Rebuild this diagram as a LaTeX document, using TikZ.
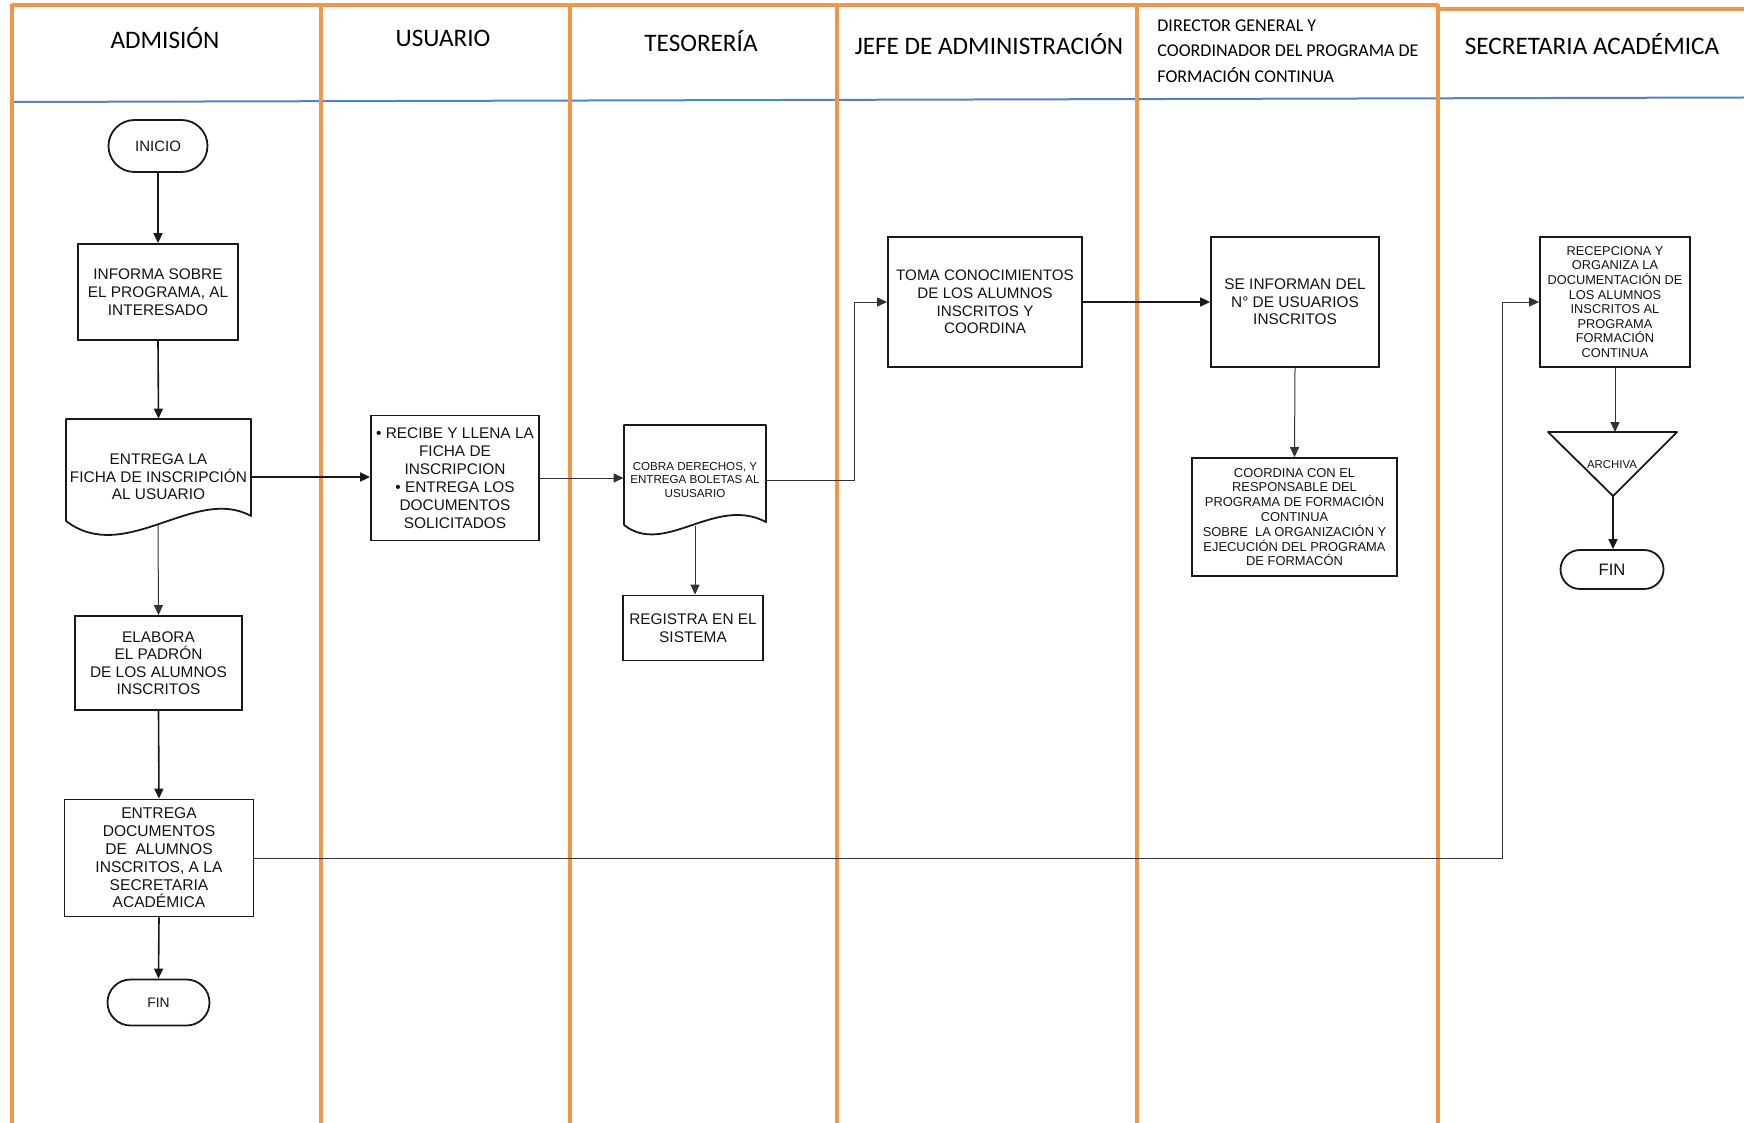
\documentclass[tikz,border=0pt]{standalone}
\usepackage{fontspec}
\setmainfont{Liberation Sans}
\newfontfamily\hdrfont{Carlito}
\usetikzlibrary{arrows.meta,calc,shapes.misc}
\definecolor{laneor}{RGB}{240,150,72}
\definecolor{hblue}{RGB}{88,130,190}
\begin{document}
\begin{tikzpicture}[x=0.5pt,y=-0.5pt,
  lanel/.style={draw=laneor, line width=2pt},
  box/.style={draw=black!90, line width=0.9pt, align=center, inner sep=1pt, text=black!92, font=\fontsize{7.7}{9}\selectfont},
  term/.style={draw=black!90, line width=0.9pt, rounded rectangle, inner sep=1pt, text=black!92},
  doctxt/.style={align=center, inner sep=0pt, text=black!92},
  docline/.style={draw=black!90, line width=0.9pt, line join=round},
  hdr/.style={font=\hdrfont\fontsize{12.6}{15}\selectfont, text=black, inner sep=0pt},
  con/.style={draw=black!90, line width=0.8pt, -{Triangle[length=5pt,width=4.5pt]}},
  thinc/.style={draw=black!80, line width=0.5pt, -{Triangle[length=5pt,width=4.5pt]}}
]
\useasboundingbox (0,0) rectangle (1744,1123);
\fill[white] (0,0) rectangle (1744,1123);

% ---- swimlane frame ----
\draw[hblue, line width=1pt] (12,102) -- (1744,97.5);
\draw[lanel] (12,5) -- (1438,5);
\draw[lanel] (1438,9) -- (1744,9);
\foreach \lx in {12,321,570,837,1137,1438}{
  \draw[lanel] (\lx,4) -- (\lx,1123);
}

% ---- headers ----
\node[hdr] (hAdm) at (165,38) {ADMISIÓN};
\node[hdr] (hUsu) at (443,38) {USUARIO};
\node[hdr] (hTes) at (701,41) {TESORERÍA};
\node[hdr] (hJef) at (989,44) {JEFE DE ADMINISTRACIÓN};
\node[hdr, anchor=west, align=left, font=\hdrfont\fontsize{9}{12.8}\selectfont] (hDir) at (1157,51) {DIRECTOR GENERAL Y\\COORDINADOR DEL PROGRAMA DE\\FORMACIÓN CONTINUA};
\node[hdr] (hSec) at (1592,44) {SECRETARIA ACADÉMICA};

% ---- ADMISION lane ----
\node[term, minimum width=51.5pt, minimum height=26pt, font=\fontsize{7.5}{9}\selectfont] (ini) at (158,146) {INICIO};
\node[box, minimum width=80pt, minimum height=48pt] (inf) at (158,292) {INFORMA SOBRE\\EL PROGRAMA, AL\\INTERESADO};

\draw[docline] (66,521) -- (66,419) -- (251,419) -- (251,516) .. controls (195,485) and (125,566) .. (66,521);
\node[doctxt, minimum width=92.5pt, minimum height=58pt, font=\fontsize{7.7}{8.7}\selectfont] (docA) at (158.5,477) {ENTREGA LA\\FICHA DE INSCRIPCIÓN\\AL USUARIO};
\coordinate (docAb) at (158,525);

\node[box, minimum width=83.5pt, minimum height=47pt, font=\fontsize{7.7}{8.7}\selectfont] (ela) at (158.5,663) {ELABORA\\EL PADRÓN\\DE LOS ALUMNOS\\INSCRITOS};
\node[box, minimum width=94.5pt, minimum height=58.5pt, font=\fontsize{7.8}{8.9}\selectfont] (edoc) at (159,858) {ENTREGA\\DOCUMENTOS\\DE \ ALUMNOS\\INSCRITOS, A LA\\SECRETARIA\\ACADÉMICA};
\node[term, minimum width=53pt, minimum height=23pt, font=\fontsize{6.9}{8}\selectfont] (fin1) at (158.5,1002.5) {FIN};

% ---- USUARIO lane ----
\node[box, minimum width=84pt, minimum height=62.5pt] (rec) at (455,478) {• RECIBE Y LLENA LA\\FICHA DE\\INSCRIPCION\\• ENTREGA LOS\\DOCUMENTOS\\SOLICITADOS};

% ---- TESORERIA lane ----
\draw[docline] (624,525) -- (624,425) -- (766,425) -- (766,522) .. controls (715,495) and (665,557) .. (624,525);
\node[doctxt, minimum width=71pt, minimum height=55pt, font=\fontsize{5.8}{6.6}\selectfont] (cob) at (695,480) {COBRA DERECHOS, Y\\ENTREGA BOLETAS AL\\USUSARIO};
\coordinate (cobb) at (695,526);
\node[box, minimum width=70pt, minimum height=32.5pt] (reg) at (693,628) {REGISTRA EN EL\\SISTEMA};

% ---- JEFE lane ----
\node[box, minimum width=97pt, minimum height=65pt, font=\fontsize{7.6}{8.8}\selectfont] (toma) at (985,302) {TOMA CONOCIMIENTOS\\DE LOS ALUMNOS\\INSCRITOS Y\\COORDINA};

% ---- DIRECTOR lane ----
\node[box, minimum width=84pt, minimum height=65pt, font=\fontsize{7.7}{8.8}\selectfont] (seinf) at (1295,302) {SE INFORMAN DEL\\N° DE USUARIOS\\INSCRITOS};
\node[box, minimum width=102.5pt, minimum height=59pt, font=\fontsize{6.45}{7.4}\selectfont] (coord) at (1294.5,517) {COORDINA CON EL\\RESPONSABLE DEL\\PROGRAMA DE FORMACIÓN\\CONTINUA\\SOBRE \ LA ORGANIZACIÓN Y\\EJECUCIÓN DEL PROGRAMA\\DE FORMACÓN};

% ---- SECRETARIA lane ----
\node[box, minimum width=75pt, minimum height=65pt, font=\fontsize{6.4}{7.3}\selectfont] (recep) at (1615,302) {RECEPCIONA Y\\ORGANIZA LA\\DOCUMENTACIÓN DE\\LOS ALUMNOS\\INSCRITOS AL\\PROGRAMA\\FORMACIÓN\\CONTINUA};
\draw[docline] (1548,432) -- (1677,432) -- (1613,496) -- cycle;
\node[doctxt, font=\fontsize{5.7}{7}\selectfont] (arch) at (1612,465) {ARCHIVA};
\coordinate (tritop) at (1613,432);
\coordinate (triapex) at (1613,496);
\node[term, minimum width=53.5pt, minimum height=19.5pt, font=\fontsize{8.3}{9}\selectfont] (fin2) at (1612,569.5) {FIN};

% ---- connectors ----
\draw[con] (ini.south) -- (inf.north);
\draw[con] (inf.south) -- (docA.north);
\draw[con] (docA.east) -- (docA.east -| rec.west);
\draw[thinc] (docAb) -- (ela.north);
\draw[con] (ela.south) -- (edoc.north);
\draw[con] (edoc.south) -- (fin1.north);
\draw[thinc] (edoc.east) -| ([xshift=-18.5pt]recep.west) -- (recep.west);
\draw[thinc] (rec.east) -- (rec.east -| cob.west);
\draw[thinc] (cob.east) -| ([xshift=-16.5pt]toma.west) -- (toma.west);
\draw[thinc] (cobb) -- (cobb |- reg.north);
\draw[con] (toma.east) -- (seinf.west);
\draw[thinc] (seinf.south) -- (coord.north);
\draw[thinc] (recep.south) -- (recep.south |- tritop);
\draw[con] (triapex) -- (triapex |- fin2.north);
\end{tikzpicture}
\end{document}
